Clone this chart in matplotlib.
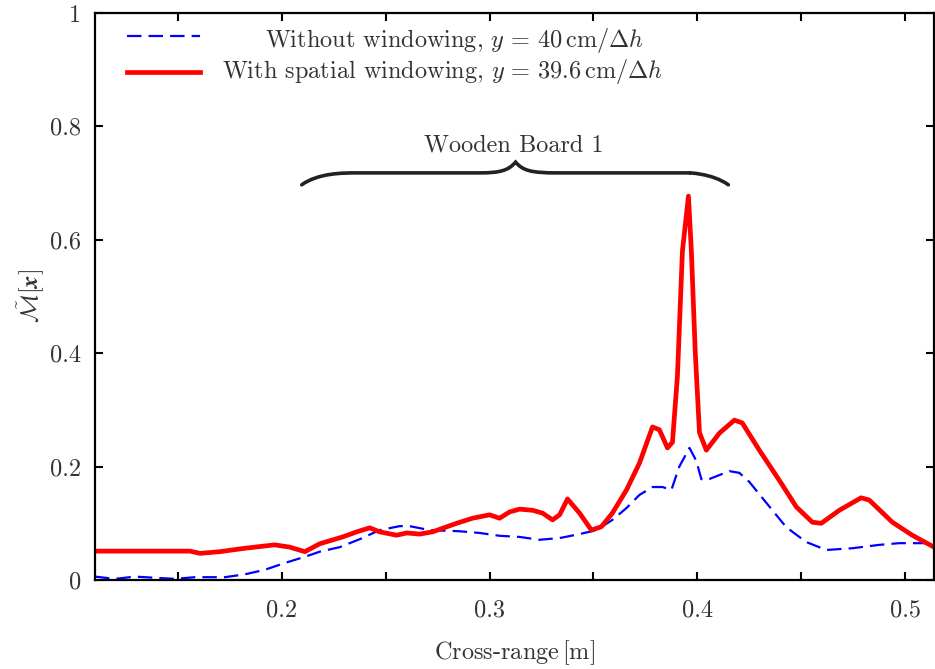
import numpy as np
import matplotlib
matplotlib.use("Agg")
import matplotlib.pyplot as plt
from matplotlib.path import Path
from matplotlib.patches import PathPatch

plt.rcParams['font.family'] = ['cmr10', 'DejaVu Serif']
plt.rcParams['mathtext.fontset'] = 'cm'
plt.rcParams['axes.unicode_minus'] = False

# red curve: with spatial windowing
x_win = [0.1101, 0.1558, 0.1606, 0.1702, 0.1822, 0.1966, 0.2038, 0.2111, 0.2183,
         0.2293, 0.2361, 0.2423, 0.2471, 0.2553, 0.2601, 0.2663, 0.2726, 0.2841,
         0.2918, 0.3000, 0.3048, 0.3096, 0.3144, 0.3207, 0.3255, 0.3303, 0.3337,
         0.3375, 0.3433, 0.3490, 0.3538, 0.3591, 0.3659, 0.3721, 0.3784, 0.3817,
         0.3856, 0.3880, 0.3904, 0.3928, 0.3957, 0.3971, 0.3990, 0.4010, 0.4043,
         0.4106, 0.4178, 0.4216, 0.4298, 0.4394, 0.4476, 0.4553, 0.4596, 0.4683,
         0.4788, 0.4827, 0.4938, 0.5034, 0.5139]
y_win = [0.051, 0.051, 0.047, 0.050, 0.056, 0.062, 0.058, 0.050, 0.064,
         0.076, 0.085, 0.092, 0.085, 0.079, 0.083, 0.081, 0.085, 0.100,
         0.109, 0.115, 0.109, 0.120, 0.125, 0.123, 0.118, 0.106, 0.115,
         0.143, 0.118, 0.088, 0.094, 0.118, 0.159, 0.206, 0.270, 0.265,
         0.233, 0.243, 0.360, 0.580, 0.677, 0.580, 0.400, 0.260, 0.229,
         0.259, 0.282, 0.277, 0.229, 0.176, 0.129, 0.102, 0.100, 0.123,
         0.145, 0.141, 0.102, 0.079, 0.058]

# blue dashed curve: without windowing
x_raw = [0.1101, 0.1197, 0.1293, 0.1389, 0.1486, 0.1582, 0.1726, 0.1822, 0.1918,
         0.2014, 0.2111, 0.2183, 0.2279, 0.2375, 0.2471, 0.2567, 0.2615, 0.2712,
         0.2856, 0.2952, 0.3048, 0.3144, 0.3240, 0.3337, 0.3433, 0.3514, 0.3591,
         0.3659, 0.3721, 0.3784, 0.3832, 0.3875, 0.3913, 0.3962, 0.3995, 0.4019,
         0.4043, 0.4154, 0.4202, 0.4250, 0.4332, 0.4428, 0.4524, 0.4620, 0.4745,
         0.4875, 0.4971, 0.5139]
y_raw = [0.006, 0.002, 0.006, 0.004, 0.002, 0.005, 0.005, 0.010, 0.018,
         0.030, 0.041, 0.050, 0.058, 0.072, 0.088, 0.095, 0.095, 0.088,
         0.086, 0.083, 0.078, 0.076, 0.071, 0.074, 0.081, 0.088, 0.106,
         0.127, 0.150, 0.164, 0.164, 0.159, 0.200, 0.233, 0.210, 0.178,
         0.176, 0.192, 0.189, 0.173, 0.136, 0.093, 0.067, 0.053, 0.056,
         0.062, 0.065, 0.065]

label_raw = r"Without windowing, $y \,=\, 40\,\mathrm{cm}/\Delta h$"
label_win = r"With spatial windowing, $y \,=\, 39.6\,\mathrm{cm}/\Delta h$"

x_ticks = [0.15, 0.2, 0.25, 0.3, 0.35, 0.4, 0.45, 0.5]
x_ticklabels = ['', '0.2', '', '0.3', '', '0.4', '', '0.5']
y_ticks = [0, 0.2, 0.4, 0.6, 0.8, 1.0]
y_ticklabels = ['0', '0.2', '0.4', '0.6', '0.8', '1']

txt = '#333333'
fs = 17.5

fig = plt.figure(figsize=(9.35, 6.69), dpi=100)
ax = fig.add_axes([0.1016, 0.133, 0.8974, 0.8476])

l_raw, = ax.plot(x_raw, y_raw, color='#0000ff', lw=1.6, dashes=(6.5, 3.2))
l_win, = ax.plot(x_win, y_win, color='#ff0000', lw=3.4)

ax.set_xlim(0.1101, 0.5139)
ax.set_ylim(0, 1)
ax.set_xticks(x_ticks)
ax.set_xticklabels(x_ticklabels)
ax.set_yticks(y_ticks)
ax.set_yticklabels(y_ticklabels)
ax.tick_params(direction='in', length=6, width=1.5, top=True, right=True,
               labelsize=fs, colors=txt, pad=10)
ax.tick_params(axis='x', pad=14)
ax.tick_params(color='black')
for s in ax.spines.values():
    s.set_linewidth(1.6)

ax.set_xlabel(r"Cross-range$\,$[m]", fontsize=fs, color=txt, labelpad=12)
ax.set_ylabel(r"$\tilde{\mathcal{M}}[\boldsymbol{x}]$", fontsize=fs, color=txt, labelpad=2)

# curly brace over the board
bx0, bx1, bxm = 0.2096, 0.4149, 0.3125
by_end, by_mid, by_tip = 0.697, 0.718, 0.737
verts = [(bx0, by_end), (bx0 + 0.008, by_mid), (bx0 + 0.02, by_mid), (0.2361, by_mid),
         (0.2952, by_mid),
         (0.305, by_mid), (0.309, by_mid + 0.004), (bxm, by_tip),
         (0.316, by_mid + 0.004), (0.320, by_mid), (0.3322, by_mid),
         (0.3966, by_mid),
         (bx1 - 0.02, by_mid), (bx1 - 0.008, by_mid), (bx1, by_end)]
codes = [Path.MOVETO, Path.CURVE4, Path.CURVE4, Path.CURVE4,
         Path.LINETO,
         Path.CURVE4, Path.CURVE4, Path.CURVE4,
         Path.CURVE4, Path.CURVE4, Path.CURVE4,
         Path.LINETO,
         Path.CURVE4, Path.CURVE4, Path.CURVE4]
ax.add_patch(PathPatch(Path(verts, codes), fill=False, lw=2.6, color='#222222',
                       capstyle='round'))
ax.text(0.3115, 0.767, "Wooden Board 1", ha='center', va='center', fontsize=fs, color=txt)

# legend: handles only, labels written centred like the original
leg = ax.legend([l_raw, l_win], ['', ''], loc='upper left', bbox_to_anchor=(0.038, 0.975),
                frameon=False, fontsize=fs, handlelength=3.0, handletextpad=0,
                labelspacing=0.6, borderpad=0, borderaxespad=0)
ax.text(0.2026, 0.952, label_raw, transform=ax.transAxes, ha='left', va='center',
        fontsize=fs, color=txt)
ax.text(0.1514, 0.896, label_win, transform=ax.transAxes, ha='left', va='center',
        fontsize=fs, color=txt)

fig.savefig("out.png", dpi=100)
